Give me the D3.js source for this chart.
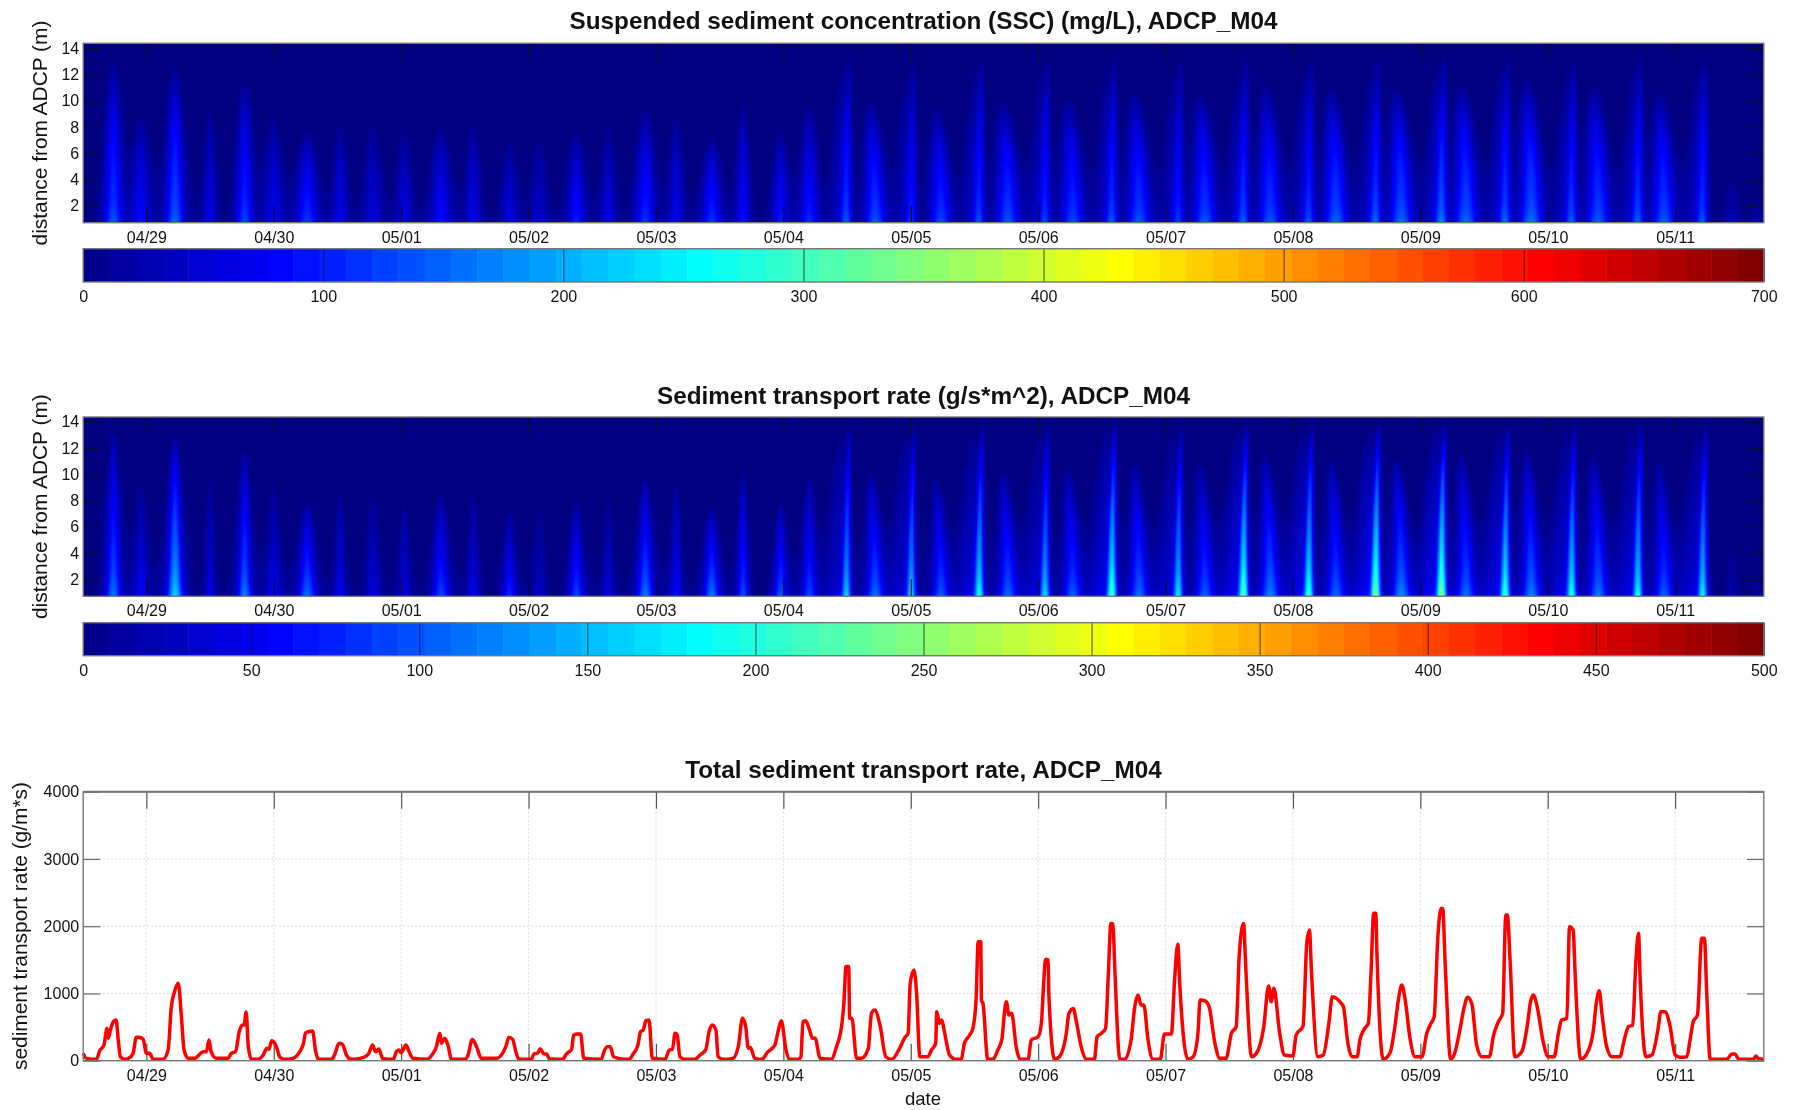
<!DOCTYPE html>
<html><head><meta charset="utf-8">
<script src="https://cdn.jsdelivr.net/npm/d3@7"></script>
<style>
html,body{margin:0;padding:0;background:#fff}
svg{display:block;filter:blur(0.7px)}
text{font-family:"Liberation Sans",Arial,sans-serif;fill:#111}
</style></head><body>
<svg id="c" width="1794" height="1110"></svg>
<script>
// ---- data ----------------------------------------------------------------
const dayLabels = ["04/29","04/30","05/01","05/02","05/03","05/04","05/05","05/06","05/07","05/08","05/09","05/10","05/11"];
const dayHours = [0,24,48,72,96,120,144,168,192,216,240,264,288];
const hourExtent = [-11.9,304.7];
const depthExtent = [0.7,14.37];
const depthTicks = [2,4,6,8,10,12,14];
const rateTicks = [0,1000,2000,3000,4000];
const sscBarTicks = [0,100,200,300,400,500,600,700];
const rateBarTicks = [0,50,100,150,200,250,300,350,400,450,500];

// tidal plumes: centre time (h after 04/29 00:00), top height (m), near-bed values
const plumeHour = [-6.2,-1,5.4,12,18.5,24,30.3,36.5,42.7,48.6,55.5,61.6,68.4,74,81,87,94,99.8,106.5,112.4,119.5,124.9,131.9,137.3,144.1,149.7,156.9,162.3,169.3,174.5,181.9,187,194.4,199.4,206.7,211.7,219,224.1,231.6,236.4,244,248.6,256,260.9,268.5,273.5,281,285.9,293.2,298.7,303.5];
const plumeTop = [13.4,9.3,13,10,12,9.3,8,8.8,8.8,8.3,8.5,8.8,7.3,7.8,8,8.5,9.8,9.5,7.5,10.3,8,10,13.9,10.3,13.9,9.8,13.9,10.3,13.9,10.6,14.1,11,13.9,11,13.9,11.6,13.9,11.3,13.9,11.3,14,11.6,13.9,12,13.9,11.5,14.1,11,13.9,4.5,3];
const plumeSsc = [150,100,165,80,140,85,130,85,70,75,100,85,75,55,110,80,125,85,125,105,110,120,170,150,140,140,160,150,150,140,165,150,140,150,170,150,160,160,175,165,195,165,175,170,170,155,170,155,170,35,25];
const plumeRate = [125,65,175,55,130,60,120,60,50,50,100,60,85,35,100,50,125,70,125,105,110,100,185,120,190,110,220,115,190,110,250,120,200,110,260,130,240,115,280,135,285,120,240,130,225,125,215,110,210,25,15];
const plumeWidth = [1.2,1.3,1.2,0.9,1.1,1.3,1.4,1,1.3,1.1,1.4,1,1.1,1.3,1.2,1,1.3,1,1.3,0.9,1.1,1.2,0.8,1.4,0.8,1.4,0.8,1.5,0.8,1.5,0.8,1.5,0.8,1.5,0.8,1.5,0.8,1.5,0.8,1.5,0.8,1.5,0.8,1.5,0.8,1.5,0.8,1.5,0.8,1.2,1];
const plumeLean = [0,0,0,0,0,0,0,0,0,0,0,0,0,0,0,0,0,0,0,0,0,0,-0.6,1,-0.6,1,-0.6,1,-0.6,1,-0.6,1,-0.6,1,-0.6,1,-0.6,1,-0.6,1,-0.6,1,-0.6,1,-0.6,1,-0.6,1,-0.6,0,0];

// total transport: [hour, g/m*s]
const totalRate = [[-11.9,109],[-11.3,35],[-9.4,20],[-8.8,149],[-8,233],[-7.4,481],[-7.2,332],[-6.7,481],[-6.2,580],[-5.7,605],[-5.3,308],[-4.9,60],[-4.1,20],[-3.1,50],[-2.5,109],[-1.9,347],[-1.4,347],[-0.6,317],[0,109],[0.6,109],[1.3,20],[3.1,20],[4.1,159],[4.7,804],[5.3,1026],[6,1150],[6.6,655],[7.1,159],[7.9,35],[9.1,35],[9.7,69],[10.7,134],[11.3,134],[11.8,308],[12.2,134],[13.2,35],[15.4,35],[16,109],[16.8,134],[17.5,432],[18.1,531],[18.4,531],[18.8,724],[19.2,208],[19.8,20],[21,20],[22,84],[22.7,184],[23.1,169],[23.6,298],[24.2,258],[24.6,184],[25.1,60],[26.1,20],[27.6,35],[28.9,134],[29.6,258],[30,416],[31.3,441],[31.9,134],[32.4,20],[34.9,20],[35.5,99],[36.3,258],[36.9,248],[37.7,84],[38.6,20],[40.2,35],[41.4,69],[41.9,109],[42.6,233],[43.2,134],[43.8,174],[44.5,35],[46.5,20],[47.1,134],[47.6,159],[48,119],[48.9,233],[49.5,134],[50.2,35],[52.8,20],[54,109],[54.6,198],[55.3,407],[55.6,258],[56.2,332],[56.8,233],[57.5,20],[60,20],[60.6,84],[61.4,317],[62.2,208],[63.1,35],[65.9,35],[67.1,109],
[67.7,208],[68.3,347],[69,317],[69.6,134],[70.2,20],[72.5,20],[73,99],[73.8,119],[74.2,179],[74.9,99],[75.4,99],[75.9,30],[78.4,20],[79.1,99],[80.1,169],[80.5,382],[81.1,397],[81.8,397],[82.4,35],[85.7,20],[86.2,134],[86.8,208],[87.4,208],[88,60],[88.9,35],[90.9,20],[91.7,99],[92.6,233],[93.1,432],[93.6,456],[94.1,595],[94.7,605],[95.3,35],[97.7,20],[98.5,159],[99.1,169],[99.6,407],[100,382],[100.5,60],[101.4,20],[103.3,20],[104.3,84],[105.4,169],[106,432],[106.6,531],[107.3,456],[107.7,60],[108.6,20],[110.5,35],[111.5,208],[112.3,630],[112.9,506],[113.4,184],[113.8,198],[114.6,35],[115.9,20],[117.1,134],[118.4,233],[119,432],[119.6,595],[120.5,159],[121.2,20],[122.8,20],[123.3,60],[123.7,580],[124.2,595],[124.9,466],[125.5,332],[126,332],[126.9,35],[129.1,20],[130,208],[130.6,357],[131,531],[131.4,853],[131.8,1399],[132.3,1399],[132.5,630],[132.9,630],[133.8,35],[134.7,35],[136,184],[136.6,704],[137.2,754],[138.2,531],[139.3,60],[140.4,20],[141.9,184],[142.9,347],[143.5,407],[143.9,1151],[144.6,1349],[145.1,1002],[145.7,60],
[146.3,59],[147.2,59],[147.9,159],[148.7,258],[148.9,729],[149.4,555],[149.8,605],[150.4,406],[151.3,84],[152.6,20],[153.5,20],[154.1,258],[155.1,382],[155.7,481],[156.3,902],[156.7,1770],[157.2,1770],[157.3,902],[157.6,853],[158.5,20],[159.5,20],[160.4,159],[161.2,332],[161.6,679],[162,877],[162.5,679],[163,704],[163.9,183],[164.6,20],[166.1,20],[166.7,307],[168,357],[168.6,555],[169,1100],[169.4,1507],[169.9,1497],[170,1001],[171.1,20],[172,59],[173.3,406],[173.8,704],[174.6,778],[175.2,580],[176.1,208],[177.1,20],[178.6,20],[179.1,357],[179.9,406],[180.7,481],[181.2,1249],[181.7,2042],[182.1,2032],[182.4,1447],[183.4,20],[184.3,20],[185.5,307],[186.2,803],[186.8,976],[187.4,828],[187.9,828],[188.7,307],[189.6,20],[191,20],[191.8,397],[193.1,397],[193.7,1200],[194.3,1730],[194.7,1100],[196.2,20],[197.2,59],[198.1,406],[198.5,902],[199.4,892],[200.2,803],[201.3,258],[202.2,35],[203.4,35],[204.4,406],[205.3,506],[205.9,1596],[206.7,2042],[207.1,1398],[208.2,59],[209.1,109],[210.5,506],[211.4,1110],[211.9,877],[212.4,1076],[213.5,406],[214.4,84],[216,69],[216.6,382],[217.9,515],[218.6,1745],[219.1,1943],[219.5,1299],[220.7,59],[221.7,84],[222.8,580],[223.4,952],[224.2,927],[225.1,853],
[225.5,803],[226.4,233],[227.1,59],[228.1,59],[228.6,307],[229.4,466],[230.2,555],[230.7,1299],[231.2,2191],[231.6,2191],[231.8,1646],[233,20],[234.3,119],[235.2,506],[235.9,927],[236.5,1125],[237.1,927],[238.1,307],[239,59],[240.3,59],[241.2,406],[242,555],[242.6,654],[243.3,1844],[243.9,2265],[244.2,2265],[244.7,1398],[245.7,20],[246.5,119],[247.5,481],[248.2,778],[248.9,942],[249.7,843],[250.6,233],[251.6,59],[253,59],[253.8,382],[254.7,580],[255.5,704],[256.1,2166],[256.4,2166],[256.9,1497],[257.8,59],[259.1,134],[260.2,555],[260.7,853],[261.3,977],[262,803],[263.2,258],[264.1,59],[265.2,59],[266,406],[266.6,605],[267.6,630],[268.1,1993],[268.8,1943],[269.1,1398],[270.2,20],[271.7,159],[272.6,456],[273.1,828],[273.7,1041],[274.2,704],[275.1,208],[276.1,59],[277.6,59],[278.4,307],[279.2,506],[280,530],[280.6,1472],[281.1,1894],[281.4,1224],[282.5,59],[283.6,84],[284.8,481],[285.3,729],[286.1,729],[287,530],[288,84],[288.9,50],[290.2,59],[290.8,307],[291.4,580],[292.2,679],[293,1819],[293.5,1819],[294,902],[294.6,20],[297.7,20],[298.7,99],[299.3,99],[300,20],[302.8,20],[303.2,69],[303.7,30],[304.7,20]];

// ---- layout ---------------------------------------------------------------
const L = 83.2, R = 1763.8;
const panels = [
 {title:"Suspended sediment concentration (SSC) (mg/L), ADCP_M04", titleY:20.7, top:43.3, bottom:222.7, barTop:248.7, barBottom:282, barMax:700, barTicks:sscBarTicks, values:plumeSsc, kind:"ssc"},
 {title:"Sediment transport rate (g/s*m^2), ADCP_M04", titleY:395, top:417, bottom:596.3, barTop:622.7, barBottom:655.7, barMax:500, barTicks:rateBarTicks, values:plumeRate, kind:"rate"}
];
const svg = d3.select("#c");
const x = d3.scaleLinear().domain(hourExtent).range([L,R]);
const FS = 16, TICK = 17;
const jet = t => { // MATLAB jet map
  const c = v => Math.round(255*Math.max(0,Math.min(1,v)));
  return `rgb(${c(Math.min(4*t-1.5,-4*t+4.5))},${c(Math.min(4*t-0.5,-4*t+3.5))},${c(Math.min(4*t+0.5,-4*t+2.5))})`;
};
const title = (t,y)=>svg.append("text").attr("x",(L+R)/2).attr("y",y).attr("dy","0.35em").attr("text-anchor","middle")
   .attr("font-size",24.3).attr("font-weight","bold").text(t);
const vlabel = (t,cx,cy)=>svg.append("text").attr("transform",`translate(${cx},${cy}) rotate(-90)`).attr("text-anchor","middle")
   .attr("dy","0.35em").attr("font-size",20.9).text(t);

function xAxes(g,y0,y1,tickColor){
  const ax = d3.axisBottom(x).tickValues(dayHours).tickFormat((d,i)=>dayLabels[i]).tickSizeOuter(0);
  const b = g.append("g").attr("transform",`translate(0,${y1})`).call(ax.tickSizeInner(-TICK));
  b.select(".domain").remove();
  b.selectAll("line").attr("stroke",tickColor).attr("stroke-width",1.2);
  b.selectAll("text").attr("font-size",FS).attr("y",14.5).attr("dy","0.35em").style("fill","#111");
  const t = g.append("g").attr("transform",`translate(0,${y0})`).call(d3.axisTop(x).tickValues(dayHours).tickFormat("").tickSizeOuter(0).tickSizeInner(-TICK));
  t.select(".domain").remove();
  t.selectAll("line").attr("stroke",tickColor).attr("stroke-width",1.2);
}
function yAxes(g,y,vals,tickColor){
  const a = g.append("g").attr("transform",`translate(${L},0)`).call(d3.axisLeft(y).tickValues(vals).tickSizeOuter(0).tickSizeInner(-TICK).tickFormat(d3.format("d")));
  a.select(".domain").remove();
  a.selectAll("line").attr("stroke",tickColor).attr("stroke-width",1.2);
  a.selectAll("text").attr("font-size",FS).attr("x",-4).style("fill","#111");
  const b = g.append("g").attr("transform",`translate(${R},0)`).call(d3.axisRight(y).tickValues(vals).tickFormat("").tickSizeOuter(0).tickSizeInner(-TICK));
  b.select(".domain").remove();
  b.selectAll("line").attr("stroke",tickColor).attr("stroke-width",1.2);
}
const frame = (g,x0,y0,w,h)=>g.append("rect").attr("x",x0).attr("y",y0).attr("width",w).attr("height",h).attr("fill","none").attr("stroke","#777").attr("stroke-width",1.4);

// near-bed plume field built from the per-plume readings
function field(kind,values,h,z){
  let s = 0;
  for(let k=0;k<plumeHour.length;k++){
    const top = plumeTop[k]; if(z>=top) continue;
    if(Math.abs(h-plumeHour[k])>14) continue;
    const zn = (z-depthExtent[0])/(top-depthExtent[0]);
    const main = plumeLean[k]<0;
    const c = plumeHour[k]-plumeLean[k]*zn*zn;
    let P, wc, wh, mix, sh;
    if(kind==="ssc"){
      P = 0.25*Math.exp(-(z-0.7)/1.0)+0.75*(1-Math.pow(zn,2.2));
      wc = plumeWidth[k]*1.35*(1-0.45*zn); wh = plumeWidth[k]*2.3*Math.sqrt(1-zn)+0.2; mix = 0.72;
      sh = main?-1.4:0;
    } else {
      P = 0.2*Math.exp(-(z-0.7)/1.2)+0.8*Math.pow(1-zn,0.6);
      wc = plumeWidth[k]*1.0*(1-0.45*zn); wh = (main?2.6:plumeWidth[k]*2.0)*Math.sqrt(1-zn)+0.2; mix = main?0.78:0.7;
      sh = main?-1.6:0;
    }
    const d = h-c, e = h-c-sh;
    s += values[k]*P*(mix*Math.exp(-d*d/(wc*wc))+(1-mix)*Math.exp(-e*e/(wh*wh)));
  }
  return s;
}

panels.forEach(p=>{
  const g = svg.append("g");
  title(p.title,p.titleY);
  const y = d3.scaleLinear().domain(depthExtent).range([p.bottom,p.top]);
  const color = v=>jet(v/p.barMax);
  g.append("rect").attr("x",L).attr("y",p.top).attr("width",R-L).attr("height",p.bottom-p.top).attr("fill",color(0));
  // gridded field -> filled contours
  const n = 840, m = 90;
  const gx = d3.scaleLinear().domain([0,n]).range(hourExtent);
  const gz = d3.scaleLinear().domain([0,m]).range(depthExtent);
  const grid = new Float64Array(n*m);
  for(let j=0;j<m;j++) for(let i=0;i<n;i++) grid[i+j*n] = field(p.kind,p.values,gx(i+0.5),gz(j+0.5));
  const step = p.barMax/140;
  const th = d3.range(step*2,d3.max(grid),step);
  const contours = d3.contours().size([n,m]).thresholds(th)(grid);
  const path = d3.geoPath(d3.geoTransform({point(a,b){this.stream.point(x(gx(a)),y(gz(b)));}}));
  const cid = "clip"+p.kind;
  g.append("clipPath").attr("id",cid).append("rect").attr("x",L).attr("y",p.top).attr("width",R-L).attr("height",p.bottom-p.top);
  g.append("g").attr("clip-path",`url(#${cid})`).selectAll("path").data(contours).join("path")
    .attr("d",path).attr("fill",d=>color(d.value+step/2)).attr("stroke","none");
  xAxes(g,p.top,p.bottom,"#0a0a30");
  yAxes(g,y,depthTicks,"#0a0a30");
  frame(g,L,p.top,R-L,p.bottom-p.top);
  vlabel("distance from ADCP (m)",40,(p.top+p.bottom)/2);
  // colour bar: 64 levels
  const levels = d3.range(1,65);
  const bx = d3.scaleBand().domain(levels).range([L,R]);
  g.selectAll(null).data(levels).join("rect").attr("x",d=>bx(d)).attr("y",p.barTop).attr("width",bx.bandwidth()+0.5)
    .attr("height",p.barBottom-p.barTop).attr("fill",d=>jet(d/64));
  const cb = d3.scaleLinear().domain([0,p.barMax]).range([L,R]);
  const ca = g.append("g").attr("transform",`translate(0,${p.barBottom})`)
     .call(d3.axisBottom(cb).tickValues(p.barTicks).tickFormat(d3.format("d")).tickSizeOuter(0).tickSizeInner(-(p.barBottom-p.barTop)));
  ca.select(".domain").remove();
  ca.selectAll("line").attr("stroke","#111").attr("stroke-opacity",0.75).attr("stroke-width",1);
  ca.selectAll("text").attr("font-size",FS).attr("y",14.7).attr("dy","0.35em").style("fill","#111");
  frame(g,L,p.barTop,R-L,p.barBottom-p.barTop);
});

// ---- bottom panel ---------------------------------------------------------
const T3 = 791.7, B3 = 1060.7;
const y3 = d3.scaleLinear().domain([0,4000]).range([B3,T3]);
title("Total sediment transport rate, ADCP_M04",769);
const g3 = svg.append("g");
g3.append("g").selectAll("line").data(dayHours).join("line").attr("x1",d=>x(d)).attr("x2",d=>x(d)).attr("y1",T3).attr("y2",B3)
  .attr("stroke","#dcdcdc").attr("stroke-dasharray","2 2").attr("stroke-width",1);
g3.append("g").selectAll("line").data(rateTicks).join("line").attr("y1",d=>y3(d)).attr("y2",d=>y3(d)).attr("x1",L).attr("x2",R)
  .attr("stroke","#dcdcdc").attr("stroke-dasharray","2 2").attr("stroke-width",1);
xAxes(g3,T3,B3,"#555");
yAxes(g3,y3,rateTicks,"#666");
g3.append("path").datum(totalRate).attr("fill","none").attr("stroke","#ff0000").attr("stroke-width",3.5).attr("stroke-linejoin","round")
  .attr("d",d3.line().curve(d3.curveMonotoneX).x(d=>x(d[0])).y(d=>y3(d[1])));
frame(g3,L,T3,R-L,B3-T3);
g3.append("line").attr("x1",L).attr("x2",R).attr("y1",T3).attr("y2",T3).attr("stroke","#777").attr("stroke-width",2);
vlabel("sediment transport rate (g/m*s)",20,926);
svg.append("text").attr("x",923).attr("y",1099).attr("dy","0.35em").attr("text-anchor","middle").attr("font-size",18.5).text("date");
</script>
</body></html>
